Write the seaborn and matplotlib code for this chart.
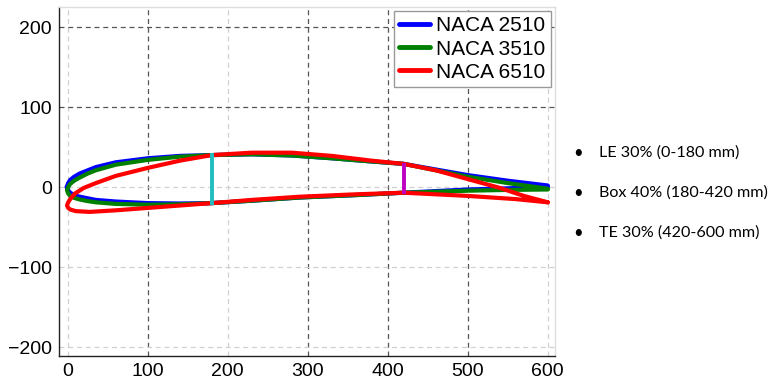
import numpy as np
import pandas as pd
import matplotlib
matplotlib.use("Agg")
import matplotlib.pyplot as plt
import seaborn as sns

# ---- data (mm) ----
profiles = ["NACA 2510", "NACA 3510", "NACA 6510"]
colors = ["#0000ff", "#008000", "#ff0000"]

x_up_2510 = [-1.5, 0.5, 3, 8, 15, 25, 35, 60, 100, 140, 180, 230, 280, 330, 380, 420, 460, 500, 550, 600]
y_up_2510 = [0, 5, 9, 13, 17, 21, 25, 31, 36, 39, 40, 41, 39.5, 36, 32, 29, 22, 15, 8, 2]
x_lo_2510 = [-1.5, 0.5, 3, 8, 15, 25, 35, 60, 100, 140, 180, 230, 290, 360, 420, 500, 550, 600]
y_lo_2510 = [0, -4, -7, -10, -12, -14, -16, -18, -20, -20.5, -20, -17, -13, -10, -7, -3, -1.5, 0]

x_up_3510 = [-1, 0.5, 3, 8, 15, 25, 35, 60, 100, 140, 180, 230, 280, 330, 380, 420, 460, 500, 550, 600]
y_up_3510 = [-4, 0, 4, 8, 12, 17, 21, 28, 34, 38, 40, 41, 39.5, 36, 32, 29, 21, 13, 5, -2]
x_lo_3510 = [-1, 0.5, 3, 8, 15, 25, 35, 60, 100, 140, 180, 230, 290, 360, 420, 500, 550, 600]
y_lo_3510 = [-4, -8, -11, -13.5, -15.5, -17.5, -19, -21, -22, -21.5, -20, -17, -13, -10, -7, -4.5, -3.5, -3]

x_up_6510 = [-1, 0.5, 3, 9, 20, 35, 60, 100, 140, 180, 230, 280, 330, 380, 420, 460, 500, 540, 570, 600]
y_up_6510 = [-23, -19, -15, -8, -1, 5, 14, 24, 33, 40, 43, 43, 39, 33, 29, 21, 10, -1, -11, -19]
x_lo_6510 = [-1, 0.5, 3, 10, 27, 60, 100, 140, 180, 230, 290, 360, 420, 500, 560, 600]
y_lo_6510 = [-23, -26, -28, -30, -31, -29, -26, -23, -20, -16, -12, -9, -7, -11, -15, -19]

spar_x = [180, 420]
spar_y_top = [43, 30]
spar_y_bot = [-22, -9]
spar_colors = ["#1fbfbf", "#bf00bf"]

notes = ["LE 30% (0-180 mm)", "Box 40% (180-420 mm)", "TE 30% (420-600 mm)"]

x_ticks = [0, 100, 200, 300, 400, 500, 600]
y_ticks = [-200, -100, 0, 100, 200]

# ---- build table: closed loop per profile (upper TE->LE, lower LE->TE) ----
uppers = [(x_up_2510, y_up_2510), (x_up_3510, y_up_3510), (x_up_6510, y_up_6510)]
lowers = [(x_lo_2510, y_lo_2510), (x_lo_3510, y_lo_3510), (x_lo_6510, y_lo_6510)]
rows = []
for name, (xu, yu), (xl, yl) in zip(profiles, uppers, lowers):
    xs = list(reversed(xu)) + list(xl[1:])
    ys = list(reversed(yu)) + list(yl[1:])
    for i, (a, b) in enumerate(zip(xs, ys)):
        rows.append({"profile": name, "x": a, "y": b, "order": i})
df = pd.DataFrame(rows)

sns.set_theme(style="white")
plt.rcParams["font.family"] = ["Liberation Sans", "DejaVu Sans"]
plt.rcParams["text.color"] = "#000000"

fig = plt.figure(figsize=(7.77, 3.83), dpi=100)
ax = fig.add_axes([59 / 777, 1 - 356 / 383, (555 - 59) / 777, (356 - 7) / 383])

# grid lines
dark_x = [100, 300, 400, 500]
dark_y = [100, 200]
for xv in x_ticks:
    c = "#555555" if xv in dark_x else "#d0d0d0"
    ax.axvline(xv, color=c, lw=0.9, ls=(0, (4, 3)), zorder=0)
for yv in y_ticks:
    c = "#555555" if yv in dark_y else "#d0d0d0"
    ax.axhline(yv, color=c, lw=0.9, ls=(0, (4, 3)), zorder=0)

sns.lineplot(data=df, x="x", y="y", hue="profile", palette=colors,
             sort=False, estimator=None, units="profile", lw=3.0, ax=ax,
             zorder=3)

for sx, st, sb, sc in zip(spar_x, spar_y_top, spar_y_bot, spar_colors):
    ax.plot([sx, sx], [sb, st], color=sc, lw=2.8, zorder=5, solid_capstyle="butt")

ax.set_xlim(-11, 609)
ax.set_ylim(-211, 225)
ax.set_xticks(x_ticks)
ax.set_yticks(y_ticks)
ax.set_xlabel("")
ax.set_ylabel("")
ax.tick_params(axis="both", labelsize=14, length=3, color="#333333", pad=2,
               labelcolor="#000000")
for s in ["left", "bottom"]:
    ax.spines[s].set_color("#222222")
    ax.spines[s].set_linewidth(1.0)
for s in ["top", "right"]:
    ax.spines[s].set_color("#dddddd")
    ax.spines[s].set_linewidth(1.0)

leg = ax.legend(loc="upper right", fontsize=15, frameon=True, fancybox=False,
                handlelength=1.5, handletextpad=0.3, borderpad=0.25,
                labelspacing=0.2, borderaxespad=0.2, framealpha=1.0)
leg.get_frame().set_edgecolor("#999999")
leg.get_frame().set_linewidth(1.0)
for h in leg.get_lines():
    h.set_linewidth(3.5)
for t in leg.get_texts():
    t.set_color("#000000")

for i, t in enumerate(notes):
    yy = 1 - (153 + 40 * i) / 383
    fig.text(578 / 777, yy, "•", fontsize=12, va="center", ha="center",
             family=["Lato", "DejaVu Sans"], color="#000000")
    fig.text(599 / 777, yy, t, fontsize=11.6, va="center", ha="left",
             family=["Lato", "DejaVu Sans"], color="#000000")

fig.savefig("out.png", dpi=100)
